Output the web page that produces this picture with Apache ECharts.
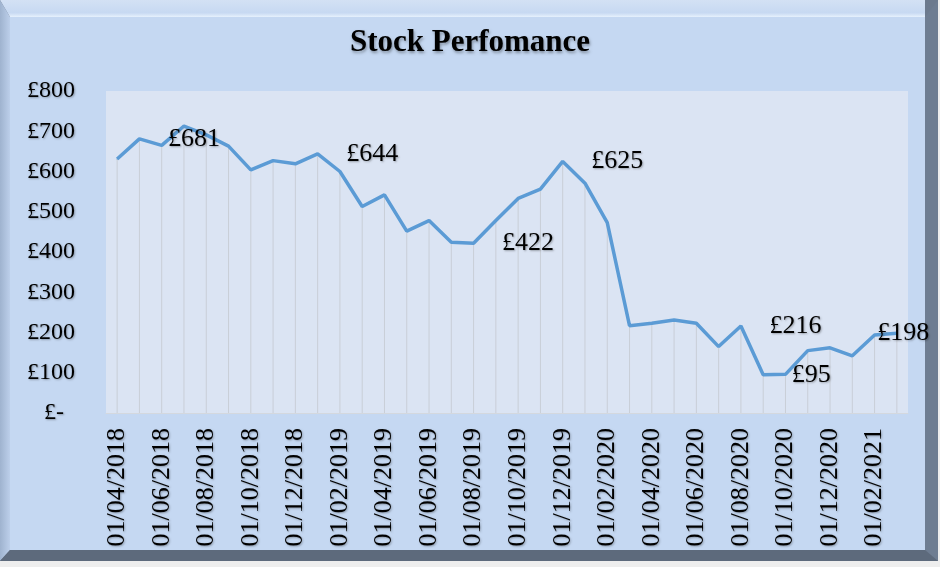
<!DOCTYPE html>
<html>
<head>
<meta charset="utf-8">
<script src="https://cdn.jsdelivr.net/npm/echarts@6/dist/echarts.min.js"></script>
<style>
  html, body { margin: 0; padding: 0; background: #eeeeee; }
  #chart { width: 940px; height: 567px; }
</style>
</head>
<body>
<div id="chart"></div>
<script>
// monthly closing price
var months = [
  "01/04/2018", "01/05/2018", "01/06/2018", "01/07/2018", "01/08/2018", "01/09/2018",
  "01/10/2018", "01/11/2018", "01/12/2018", "01/01/2019", "01/02/2019", "01/03/2019",
  "01/04/2019", "01/05/2019", "01/06/2019", "01/07/2019", "01/08/2019", "01/09/2019",
  "01/10/2019", "01/11/2019", "01/12/2019", "01/01/2020", "01/02/2020", "01/03/2020",
  "01/04/2020", "01/05/2020", "01/06/2020", "01/07/2020", "01/08/2020", "01/09/2020",
  "01/10/2020", "01/11/2020", "01/12/2020", "01/01/2021", "01/02/2021", "01/03/2021"
];
var prices = [
  631, 681, 665, 713, 691, 663,
  604, 627, 619, 644, 600, 513,
  542, 452, 478, 424, 422, 478,
  533, 556, 625, 571, 473, 217,
  223, 231, 223, 165, 216, 95,
  96, 155, 162, 142, 194, 198
];
// points that carry a value label
var labelled = [1, 9, 16, 20, 28, 29, 35];

var serif = "'Liberation Serif', 'Times New Roman', serif";
var lineColor = "#5b9bd5";

var lineData = prices.map(function (v, i) {
  if (labelled.indexOf(i) < 0) return v;
  var lab = { show: true };
  if (i === prices.length - 1) lab.offset = [-48, 0];
  return { value: v, label: lab };
});

var chart = echarts.init(document.getElementById("chart"));
chart.setOption({
  animation: false,
  backgroundColor: "#eeeeee",
  graphic: [
    // bevelled frame
    { type: "rect", z: -10, shape: { x: 0, y: 0, width: 938, height: 561 }, style: { fill: "#6c7a8e" } },
    { type: "polygon", z: -9, shape: { points: [[0, 0], [925, 0], [925, 17], [10, 17], [0, 0]] },
      style: { fill: new echarts.graphic.LinearGradient(0, 0, 0, 1, [
        { offset: 0, color: "#d3e1f4" }, { offset: 0.75, color: "#c7d9f2" }, { offset: 1, color: "#e6f1fd" }]) } },
    { type: "polygon", z: -9, shape: { points: [[0, 0], [10, 17], [10, 550], [0, 561]] },
      style: { fill: new echarts.graphic.LinearGradient(0, 0, 1, 0, [
        { offset: 0, color: "#9fb3cf" }, { offset: 1, color: "#bccfea" }]) } },
    { type: "polygon", z: -9, shape: { points: [[925, 17], [938, 0], [938, 561], [925, 550]] },
      style: { fill: "#6e7d92" } },
    { type: "polygon", z: -9, shape: { points: [[0, 561], [10, 550], [925, 550], [938, 561]] },
      style: { fill: "#5d6a7c" } },
    { type: "rect", z: -8, shape: { x: 10, y: 17, width: 915, height: 533 }, style: { fill: "#c5d8f2" } }
  ],
  title: {
    text: "Stock Perfomance",
    left: "center",
    top: 22,
    textStyle: {
      fontFamily: serif,
      fontSize: 31,
      fontWeight: "bold",
      color: "#000",
      textShadowColor: "rgba(0,0,0,0.35)",
      textShadowBlur: 3,
      textShadowOffsetX: 1,
      textShadowOffsetY: 2
    }
  },
  grid: {
    left: 106,
    right: 32,
    top: 91,
    bottom: 154,
    show: true,
    backgroundColor: "#dbe4f3",
    borderWidth: 0
  },
  xAxis: {
    type: "category",
    data: months,
    boundaryGap: true,
    axisLine: { lineStyle: { color: "#d4d8de", width: 1 } },
    axisTick: { interval: 1, length: 7, lineStyle: { color: "#d4d8de" } },
    axisLabel: {
      interval: 1,
      rotate: 90,
      margin: 15,
      fontFamily: serif,
      fontSize: 26,
      color: "#000",
      textShadowColor: "rgba(0,0,0,0.3)",
      textShadowBlur: 2,
      textShadowOffsetX: 1,
      textShadowOffsetY: 1
    },
    splitLine: { show: false }
  },
  yAxis: {
    type: "value",
    min: 0,
    max: 800,
    interval: 100,
    axisLine: { show: false },
    axisTick: { show: false },
    splitLine: { show: false },
    axisLabel: {
      align: "left",
      margin: 79,
      fontFamily: serif,
      fontSize: 24,
      color: "#000",
      textShadowColor: "rgba(0,0,0,0.3)",
      textShadowBlur: 2,
      textShadowOffsetX: 1,
      textShadowOffsetY: 1,
      formatter: function (v) {
        return v === 0 ? "{z|£-}" : "£" + v;
      },
      rich: {
        z: { padding: [0, 0, 0, 17], fontFamily: serif, fontSize: 24, color: "#000" }
      }
    }
  },
  series: [
    {
      // drop lines from each point down to the axis
      type: "bar",
      data: prices,
      barWidth: 1,
      silent: true,
      z: 1,
      itemStyle: { color: "#c9ced7" }
    },
    {
      type: "line",
      data: lineData,
      z: 3,
      symbol: "circle",
      symbolSize: 1,
      showSymbol: true,
      itemStyle: { color: lineColor },
      lineStyle: { color: lineColor, width: 3.5 },
      label: {
        show: false,
        position: "right",
        distance: 28,
        fontFamily: serif,
        fontSize: 26,
        color: "#000",
        textShadowColor: "rgba(0,0,0,0.3)",
        textShadowBlur: 2,
        textShadowOffsetX: 1,
        textShadowOffsetY: 1,
        formatter: function (p) {
          return "£" + p.value;
        }
      }
    }
  ]
});
</script>
</body>
</html>
